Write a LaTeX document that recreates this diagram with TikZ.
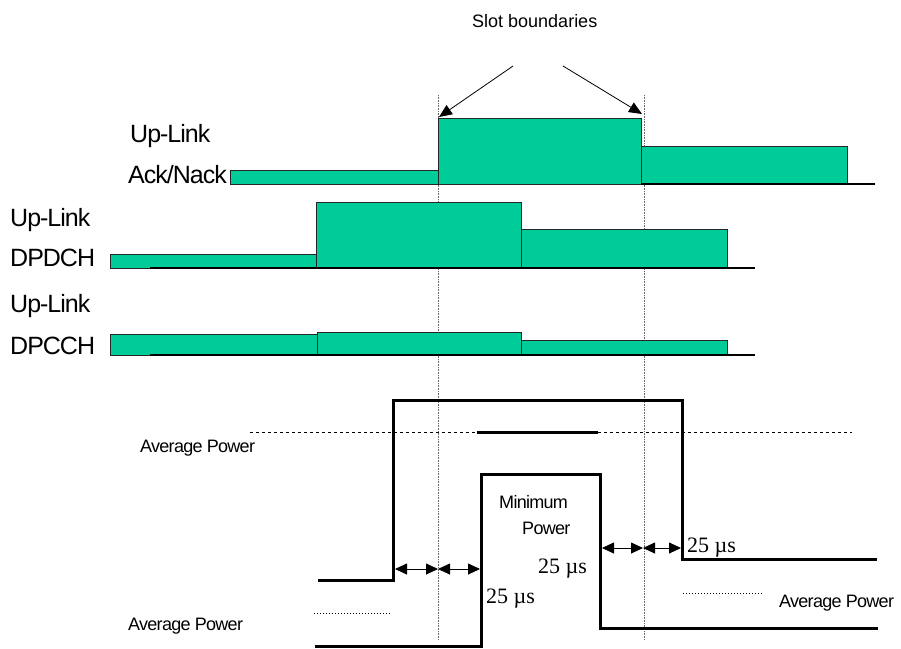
\documentclass[tikz,border=0pt]{standalone}
\usepackage{fontspec}
\setmainfont{Liberation Sans}
\newfontfamily\tightfont[LetterSpace=-4]{Liberation Sans}
\newfontfamily\timesfont{Liberation Serif}
\usetikzlibrary{positioning,arrows.meta}
\definecolor{burstgreen}{RGB}{0,204,153}

\begin{document}
\begin{tikzpicture}[x=1pt,y=-1pt,
    burst/.style={draw=black!85,fill=burstgreen,line width=0.9pt},
    base line/.style={line width=2.4pt},
    power line/.style={line width=3pt},
    slot line/.style={densely dotted,black!60,line width=0.6pt},
    chan label/.style={font=\tightfont\fontsize{25}{27}\selectfont,inner sep=0pt,anchor=base west},
    small label/.style={font=\tightfont\fontsize{18}{20}\selectfont,inner sep=0pt,anchor=base west},
    time label/.style={font=\timesfont\fontsize{22}{24}\selectfont,inner sep=0pt,anchor=base west},
    gap/.style={{Triangle[length=12pt,width=11pt]}-{Triangle[length=12pt,width=11pt]},line width=0.8pt}]

  \useasboundingbox (0,0) rectangle (901,648);

  % slot boundaries
  \coordinate (slot1 top) at (438,95);
  \coordinate (slot1 bot) at (438,640);
  \coordinate (slot2 top) at (644,95);
  \coordinate (slot2 bot) at (644,640);
  \draw[slot line] (slot1 top) -- (slot1 bot);
  \draw[slot line] (slot2 top) -- (slot2 bot);

  \node[small label,font=\fontsize{18}{20}\selectfont] (slots) at (472,27) {Slot boundaries};
  \coordinate (slots left) at (513,66);
  \coordinate (slots right) at (563,66);
  \coordinate (tip1) at (439,117);
  \coordinate (tip2) at (642,114);
  \draw[-{Triangle[length=13pt,width=11pt]},line width=0.8pt] (slots left) -- (tip1);
  \draw[-{Triangle[length=13pt,width=11pt]},line width=0.8pt] (slots right) -- (tip2);

  % Ack/Nack
  \node[chan label] (ack1) at (130,142) {Up-Link};
  \node[chan label] (ack2) at (128,183) {Ack/Nack};
  \draw[burst] (230,170) rectangle (438,184);
  \draw[burst] (438,118) rectangle (641,184);
  \draw[burst] (641,146) rectangle (847,184);
  \draw[base line] (641,184) -- (875,184);

  % DPDCH
  \node[chan label] (dpd1) at (10,226) {Up-Link};
  \node[chan label] (dpd2) at (10,266) {DPDCH};
  \draw[burst] (110,254) rectangle (316,268);
  \draw[burst] (316,202) rectangle (521,268);
  \draw[burst] (521,229) rectangle (727,268);
  \draw[base line] (150,268) -- (755,268);

  % DPCCH
  \node[chan label] (dpc1) at (10,312) {Up-Link};
  \node[chan label] (dpc2) at (10,354) {DPCCH};
  \draw[burst] (110,334) rectangle (317,355);
  \draw[burst] (317,332) rectangle (521,355);
  \draw[burst] (521,340) rectangle (727,355);
  \draw[base line] (150,355) -- (755,355);

  % power profiles
  \draw[dashed,line width=0.8pt] (250,432) -- (852,432);
  \draw[power line] (477,432) -- (598,432);
  \draw[power line] (318,580) -- (393,580) -- (393,400) -- (682,400)
                    -- (682,559) -- (877,559);
  \draw[power line] (315,646) -- (481,646) -- (481,474) -- (600,474)
                    -- (600,628) -- (878,628);
  \draw[dotted,line width=1pt] (314,613) -- (391,613);
  \draw[dotted,line width=1pt] (683,593) -- (762,593);

  \node[small label] (avg top) at (140,452) {Average Power};
  \node[small label] (avg low) at (128,630) {Average Power};
  \node[small label] (avg right) at (779,607) {Average Power};
  \node[small label] (min1) at (499,508) {Minimum};
  \node[small label] (min2) at (522,534) {Power};

  % 25 us gaps
  \coordinate (g1) at (395,569);
  \coordinate (g2) at (438,569);
  \coordinate (g3) at (480,569);
  \coordinate (g4) at (602,548);
  \coordinate (g5) at (643,548);
  \coordinate (g6) at (681,548);
  \draw[gap] (g1) -- (g2);
  \draw[gap] (g2) -- (g3);
  \draw[gap] (g4) -- (g5);
  \draw[gap] (g5) -- (g6);

  \node[time label] (t1) at (486,603) {25 µs};
  \node[time label] (t2) at (538,573) {25 µs};
  \node[time label] (t3) at (687,552) {25 µs};
\end{tikzpicture}
\end{document}
